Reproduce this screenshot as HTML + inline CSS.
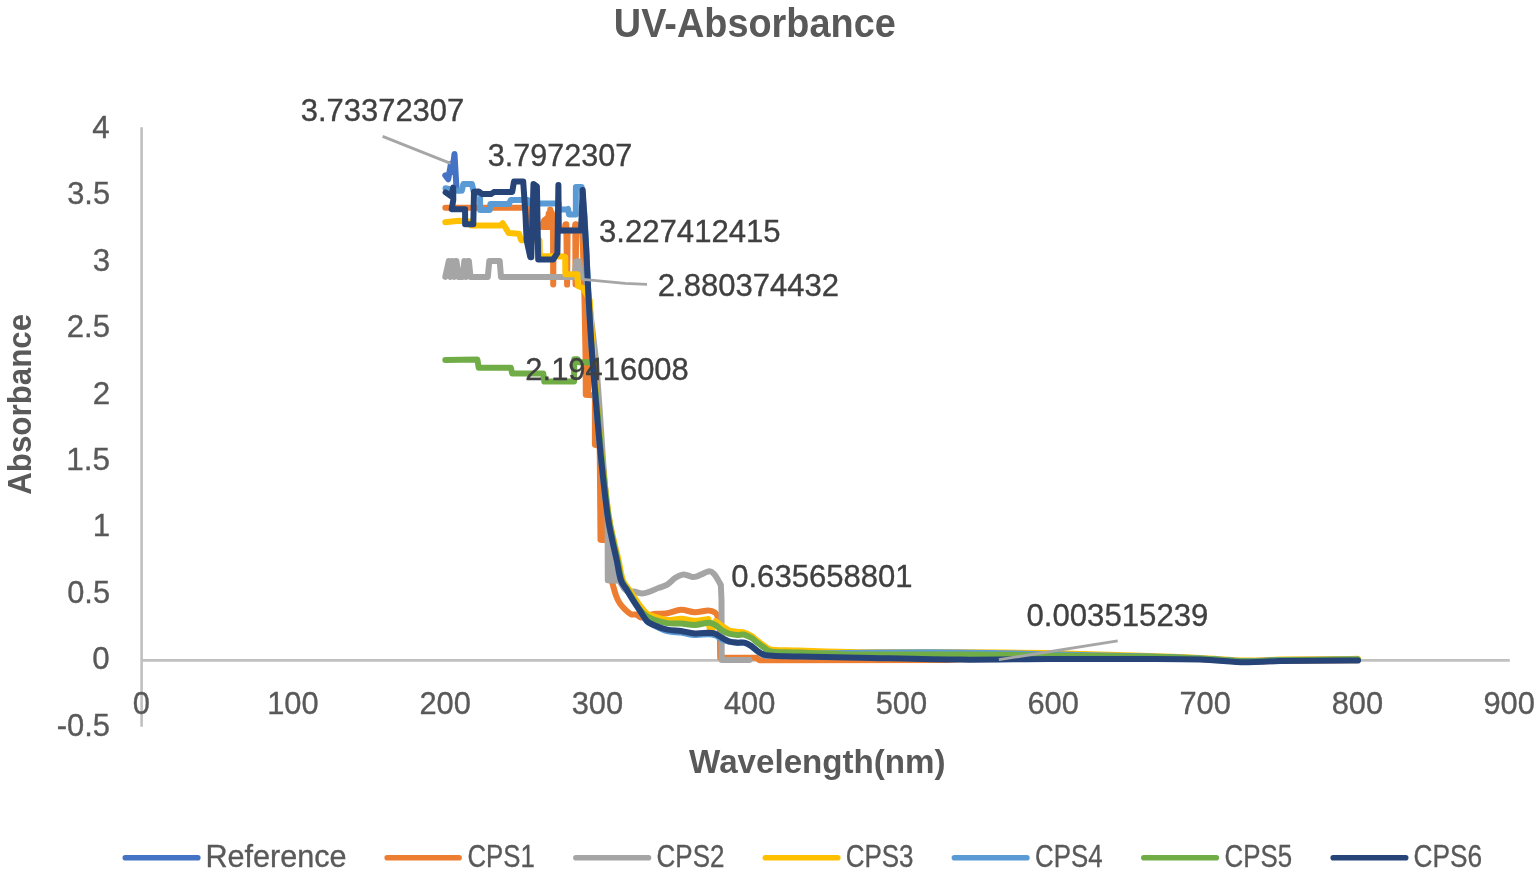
<!DOCTYPE html>
<html lang="en"><head><meta charset="utf-8"><title>UV-Absorbance</title>
<style>
html,body{margin:0;padding:0;background:#fff;}
body{width:1536px;height:878px;overflow:hidden;font-family:"Liberation Sans",Arial,sans-serif;}
svg{display:block;}
</style></head><body>
<svg width="1536" height="878" viewBox="0 0 1536 878" font-family="'Liberation Sans', Arial, sans-serif">
<rect width="1536" height="878" fill="#fff"/>
<g stroke="#c0c0c0" stroke-width="2.6" fill="none"><line x1="141.6" y1="127.3" x2="141.6" y2="726.8"/><line x1="141.6" y1="660.35" x2="1509.8" y2="660.35"/></g>
<g fill="none" stroke-width="6" stroke-linecap="round" stroke-linejoin="round">
<path stroke="#4472c4" d="M445.3,175.5 L448.2,179.3 L451.0,163.5 L452.3,172.0 L454.5,153.9 L456.3,185.0 L456.6,190.0"/>
<path stroke="#ed7d31" d="M445.3,207.7 L528.0,207.7 L529.5,227.0 L541.5,227.0 L544.0,220.5 L544.3,227.0 L545.5,219.3 L546.0,227.0 L547.0,218.0 L547.6,227.0 L548.7,213.5 L549.3,227.0 L550.2,209.6 L551.0,227.0 L551.7,212.5 L552.5,227.0 L553.0,215.0 L553.2,284.6 L553.6,230.4 L564.5,230.4 L565.4,224.2 L566.3,224.2 L567.1,284.6 L567.6,230.4 L574.5,230.4 L575.3,224.2 L575.5,284.6 L576.3,224.2 L577.0,230.4 L582.2,230.4 L583.0,250.0 L584.5,300.0 L585.6,360.0 L585.8,394.8 L594.9,395.5 L594.9,444.8 L599.7,446.0 L600.5,539.8 L610.0,540.5 L610.5,578.0 L612.6,584.0 C613.2,585.9 614.8,592.2 616.0,595.5 C617.2,598.8 618.4,601.3 620.0,603.7 C621.6,606.1 623.7,608.1 625.5,609.9 C627.3,611.7 629.2,613.5 631.0,614.3 C632.8,615.1 634.3,614.0 636.0,614.5 C637.7,615.0 639.3,617.2 641.0,617.5 C642.7,617.8 644.2,617.0 646.0,616.5 C647.8,616.0 650.2,615.1 651.5,614.7 C652.8,614.3 651.1,614.1 653.7,613.9 C656.3,613.6 662.8,613.9 667.3,613.2 C671.8,612.5 676.4,610.0 681.0,609.8 C685.6,609.6 690.1,612.1 694.7,612.2 C699.3,612.3 705.0,610.4 708.4,610.5 C711.8,610.6 713.6,611.5 715.2,612.6 C716.8,613.7 717.5,616.5 717.9,617.3 L719.8,625.0 L720.2,657.7 L756.7,657.7 L759.5,660.2 L946.0,659.9 L960.0,659.2 L1050.0,658.6 L1150.0,658.5 L1200.0,659.1 L1245.0,661.8 L1280.0,660.7 L1350.0,660.2 L1357.5,660.2"/>
<path stroke="#ed7d31" d="M588.2,335.0 L588.2,394.8"/>
<path stroke="#ed7d31" d="M602.3,492.0 L602.3,539.8"/>
<path stroke="#a5a5a5" d="M445.3,276.9 L448.8,261.0 L450.5,276.9 L452.2,261.0 L454.0,276.9 L455.5,261.0 L456.4,261.0 L458.5,276.9 L462.5,276.9 L464.3,261.0 L466.0,276.9 L467.5,261.0 L468.9,261.0 L470.5,276.9 L487.8,276.9 L489.3,261.0 L499.7,261.0 L501.0,276.9 L574.5,277.0 L576.3,261.2 L579.2,261.2 L580.5,277.0 L586.5,278.0 L588.9,300.0 L596.0,360.0 L599.7,410.0 L603.0,460.0 L607.3,515.0 L607.8,520.0 L609.5,580.3 L619.5,580.8 L624.0,588.5 C624.8,589.1 626.9,591.8 628.5,592.3 C630.1,592.8 631.5,591.2 633.7,591.4 C636.0,591.6 639.3,593.5 642.0,593.5 C644.7,593.5 647.3,592.4 650.0,591.5 C652.7,590.6 655.5,589.1 658.4,588.0 C661.3,586.9 664.4,586.3 667.2,584.6 C670.0,582.9 672.8,579.5 675.4,577.8 C678.0,576.1 680.5,575.0 682.6,574.6 C684.7,574.2 686.3,575.1 688.0,575.5 C689.7,575.9 691.3,576.9 692.8,577.0 C694.3,577.1 695.6,576.7 697.0,576.3 C698.4,575.9 699.0,575.5 701.0,574.6 C703.0,573.8 707.0,571.3 709.2,571.2 C711.4,571.1 712.5,572.4 714.0,573.9 C715.5,575.4 717.0,578.3 718.1,580.1 C719.2,581.9 720.3,584.1 720.8,584.9 L721.5,600.0 L721.7,660.0 L749.5,660.0"/>
<path stroke="#a5a5a5" d="M607.6,518.0 L607.8,580.3"/>
<path stroke="#a5a5a5" d="M610.3,533.0 L610.5,580.3"/>
<path stroke="#a5a5a5" d="M613.0,548.0 L613.0,580.3"/>
<path stroke="#a5a5a5" d="M615.5,562.0 L615.5,580.3"/>
<path stroke="#ffc000" d="M445.3,222.2 L458.9,220.8 L470.0,221.5 L471.0,225.6 L500.6,225.6 L502.7,223.2 L508.8,233.1 L519.0,233.8 L521.2,240.3 L539.5,240.3 L539.8,256.0 L562.8,256.5 L565.2,257.0 L565.4,274.3 L577.4,274.3 L578.0,286.0 L583.0,288.0 L589.7,300.0 L593.5,360.0 C594.1,367.5 595.8,388.3 597.2,405.0 C598.7,421.7 600.3,441.7 602.2,460.0 C604.1,478.3 606.8,501.7 608.7,515.0 C610.6,528.3 612.1,532.5 613.7,540.0 C615.3,547.5 617.0,553.3 618.5,560.0 C620.0,566.7 621.0,575.0 622.8,580.0 C624.6,585.0 627.4,586.9 629.4,590.0 C631.4,593.1 633.2,595.9 635.0,598.5 C636.8,601.1 638.0,603.2 640.0,605.7 C642.0,608.2 644.5,611.5 646.8,613.3 C649.1,615.1 650.3,615.3 653.7,616.4 C657.1,617.5 662.8,619.6 667.3,620.0 C671.8,620.4 676.4,618.6 681.0,618.7 C685.6,618.8 690.1,620.8 694.7,620.8 C699.3,620.8 706.1,619.3 708.4,619.0 L709.5,628.0 L713.0,628.0 L715.5,621.0 C716.6,621.8 719.8,624.5 722.0,626.0 C724.2,627.5 726.4,629.3 728.9,630.3 C731.4,631.2 734.4,631.3 737.0,631.7 C739.6,632.1 742.0,632.0 744.4,632.7 C746.8,633.4 749.0,634.4 751.3,635.8 C753.6,637.2 755.8,639.5 758.1,641.2 C760.4,643.0 763.2,645.1 764.9,646.3 C766.6,647.5 766.7,648.0 768.4,648.6 C770.1,649.2 769.9,649.6 775.2,649.9 C780.5,650.2 785.9,650.2 800.0,650.6 C814.1,651.0 833.3,651.9 860.0,652.2 C886.7,652.5 928.3,652.1 960.0,652.2 C991.7,652.4 1018.3,652.5 1050.0,653.1 C1081.7,653.8 1125.0,655.3 1150.0,656.1 C1175.0,656.9 1184.2,657.2 1200.0,657.9 C1215.8,658.6 1231.7,660.2 1245.0,660.5 C1258.3,660.8 1262.5,659.9 1280.0,659.6 C1297.5,659.3 1337.1,659.0 1350.0,658.9 C1362.9,658.8 1356.2,658.9 1357.5,658.9"/>
<path stroke="#5b9bd5" d="M445.5,188.3 L457.6,190.7 L461.8,190.7 L463.4,183.9 L471.9,183.9 L474.0,193.0 L480.1,194.0 L480.1,209.9 L489.7,209.9 L490.4,204.0 L508.8,204.0 L510.9,200.0 L528.0,200.0 L529.3,203.5 L558.6,203.5 L559.0,209.6 L567.0,209.6 L568.0,208.9 L569.0,214.4 L575.8,214.4 L575.9,187.0 L581.6,187.0 L583.0,200.0 L584.5,215.0 L586.3,250.3 C586.7,258.6 587.7,282.0 588.7,300.3 C589.7,318.6 591.2,342.8 592.5,360.3 C593.8,377.8 594.8,388.6 596.2,405.3 C597.7,422.0 599.3,442.0 601.2,460.3 C603.1,478.6 605.7,502.0 607.5,515.3 C609.3,528.6 610.7,532.8 612.2,540.3 C613.7,547.8 615.3,553.6 616.7,560.3 C618.1,567.0 619.1,575.3 620.8,580.3 C622.5,585.3 624.9,587.0 626.9,590.3 C628.9,593.6 630.9,597.0 633.0,600.3 C635.1,603.6 637.3,606.8 639.6,610.3 C641.9,613.8 644.4,618.6 646.8,621.1 C649.1,623.6 650.3,623.5 653.7,625.2 C657.1,626.9 662.8,630.0 667.3,631.2 C671.8,632.4 676.4,632.0 681.0,632.6 C685.6,633.2 690.1,634.7 694.7,635.0 C699.3,635.3 705.0,634.2 708.4,634.3 C711.8,634.4 712.9,634.5 715.2,635.3 C717.5,636.2 719.7,638.4 722.0,639.4 C724.3,640.4 726.4,641.0 728.9,641.6 C731.4,642.2 734.4,642.7 737.0,642.9 C739.6,643.1 742.0,642.3 744.4,642.9 C746.8,643.5 749.0,644.8 751.3,646.3 C753.6,647.8 755.8,650.2 758.1,651.7 C760.4,653.2 762.0,655.0 764.9,655.5 C767.8,656.0 769.4,655.2 775.2,655.0 C781.1,654.8 785.9,654.4 800.0,654.0 C814.1,653.6 833.3,653.0 860.0,652.8 C886.7,652.5 928.3,652.2 960.0,652.5 C991.7,652.8 1018.3,653.6 1050.0,654.3 C1081.7,655.0 1125.0,655.9 1150.0,656.6 C1175.0,657.3 1184.2,657.7 1200.0,658.4 C1215.8,659.1 1231.7,660.7 1245.0,661.0 C1258.3,661.3 1261.2,660.4 1280.0,660.1 C1298.8,659.9 1344.6,659.6 1357.5,659.5"/>
<path stroke="#70ad47" d="M445.3,360.0 L477.4,359.6 L478.7,367.8 L510.9,367.8 L512.2,373.6 L543.3,373.6 L544.3,381.5 L574.0,381.5 L574.3,359.3 L577.6,359.3 L578.6,362.3 L590.0,362.3 L592.8,362.5 L597.0,405.0 C597.8,414.2 600.1,441.7 602.0,460.0 C603.9,478.3 606.5,501.7 608.3,515.0 C610.1,528.3 611.5,532.5 613.0,540.0 C614.5,547.5 616.1,553.3 617.5,560.0 C618.9,566.7 619.9,575.0 621.6,580.0 C623.3,585.0 625.5,586.4 627.7,590.0 C629.8,593.6 632.5,598.2 634.5,601.5 C636.5,604.8 638.0,607.4 640.0,609.8 C642.0,612.2 644.5,614.5 646.8,616.1 C649.1,617.7 650.3,618.3 653.7,619.5 C657.1,620.7 662.8,622.4 667.3,623.1 C671.8,623.8 676.4,623.2 681.0,623.5 C685.6,623.8 690.1,625.0 694.7,624.9 C699.3,624.8 705.0,622.8 708.4,622.8 C711.8,622.8 712.9,623.6 715.2,624.9 C717.5,626.1 719.7,628.8 722.0,630.3 C724.3,631.8 726.4,632.9 728.9,633.7 C731.4,634.5 734.4,634.8 737.0,635.0 C739.6,635.2 742.0,634.2 744.4,634.7 C746.8,635.2 749.0,636.4 751.3,637.8 C753.6,639.2 755.8,641.5 758.1,643.2 C760.4,645.0 763.2,647.1 764.9,648.3 C766.6,649.5 766.7,650.0 768.4,650.6 C770.1,651.2 769.9,651.6 775.2,651.9 C780.5,652.2 785.9,652.2 800.0,652.6 C814.1,653.0 833.3,654.2 860.0,654.5 C886.7,654.8 928.3,654.4 960.0,654.5 C991.7,654.6 1018.3,655.0 1050.0,655.4 C1081.7,655.8 1125.0,656.3 1150.0,656.8 C1175.0,657.3 1184.2,657.9 1200.0,658.6 C1215.8,659.3 1231.7,660.9 1245.0,661.2 C1258.3,661.5 1262.5,660.6 1280.0,660.3 C1297.5,660.0 1337.1,659.7 1350.0,659.6 C1362.9,659.5 1356.2,659.6 1357.5,659.6"/>
<path stroke="#264478" d="M445.6,192.4 L451.3,196.4 L453.2,187.6 L453.3,200.0 L451.7,209.2 L465.1,209.2 L465.1,224.2 L473.3,224.2 L474.0,191.7 L478.7,191.5 L482.2,194.1 L491.0,194.1 L493.8,192.1 L512.2,192.1 L514.0,181.5 L523.2,181.5 L525.5,215.0 L526.6,240.0 L530.3,257.2 L531.3,257.2 L533.5,183.9 L536.9,186.4 L538.2,259.4 L553.3,259.4 L557.4,253.0 L558.4,185.0 L558.8,230.4 L581.0,230.4 L582.7,190.0 L586.3,250.0 C586.7,258.3 587.7,281.7 588.7,300.0 C589.7,318.3 591.2,342.5 592.5,360.0 C593.8,377.5 594.8,388.3 596.2,405.0 C597.7,421.7 599.3,441.7 601.2,460.0 C603.1,478.3 605.7,501.7 607.5,515.0 C609.3,528.3 610.7,532.5 612.2,540.0 C613.7,547.5 615.3,553.3 616.7,560.0 C618.1,566.7 619.1,575.0 620.8,580.0 C622.5,585.0 624.9,586.7 626.9,590.0 C628.9,593.3 630.9,596.7 633.0,600.0 C635.1,603.3 637.3,606.5 639.6,610.0 C641.9,613.5 644.4,618.3 646.8,620.8 C649.1,623.3 650.3,623.4 653.7,624.9 C657.1,626.4 662.8,628.6 667.3,629.6 C671.8,630.6 676.4,630.4 681.0,631.0 C685.6,631.6 690.1,633.1 694.7,633.4 C699.3,633.7 705.0,632.7 708.4,632.7 C711.8,632.8 712.9,632.9 715.2,633.7 C717.5,634.6 719.7,636.5 722.0,637.8 C724.3,639.1 726.4,640.5 728.9,641.3 C731.4,642.1 734.4,642.4 737.0,642.6 C739.6,642.8 742.0,642.0 744.4,642.6 C746.8,643.2 749.0,644.5 751.3,646.0 C753.6,647.5 755.8,649.9 758.1,651.4 C760.4,652.9 762.0,654.1 764.9,654.9 C767.8,655.6 769.4,655.6 775.2,655.9 C781.1,656.1 785.9,656.1 800.0,656.4 C814.1,656.7 833.3,657.2 860.0,657.7 C886.7,658.2 928.3,659.4 960.0,659.6 C991.7,659.8 1018.3,659.1 1050.0,659.0 C1081.7,658.9 1125.0,658.8 1150.0,658.9 C1175.0,659.0 1184.2,659.0 1200.0,659.5 C1215.8,660.0 1231.7,661.9 1245.0,662.2 C1258.3,662.5 1262.5,661.4 1280.0,661.1 C1297.5,660.8 1337.1,660.7 1350.0,660.6 C1362.9,660.5 1356.2,660.6 1357.5,660.6"/>
</g>
<g fill="none" stroke="#a6a6a6" stroke-width="2.8">
<path d="M382.6,136.4 L450.5,163.4"/>
<path d="M583,279.3 L625,283.3 L647,284.3"/>
<path d="M998.9,659.7 L1117.7,640.8"/>
</g>
<g fill="none" stroke-width="5.6" stroke-linecap="round">
<line x1="125.3" y1="857.8" x2="197.8" y2="857.8" stroke="#4472c4"/>
<line x1="387.2" y1="857.8" x2="459.1" y2="857.8" stroke="#ed7d31"/>
<line x1="575.9" y1="857.8" x2="648.5" y2="857.8" stroke="#a5a5a5"/>
<line x1="765.3" y1="857.8" x2="837.8" y2="857.8" stroke="#ffc000"/>
<line x1="954.4" y1="857.8" x2="1026.9" y2="857.8" stroke="#5b9bd5"/>
<line x1="1143.8" y1="857.8" x2="1216.3" y2="857.8" stroke="#70ad47"/>
<line x1="1333.2" y1="857.8" x2="1405.7" y2="857.8" stroke="#264478"/>
</g>
<g><text x="613.83" y="37.00" font-size="40.39" font-weight="bold" fill="#595959" textLength="281.92" lengthAdjust="spacingAndGlyphs">UV-Absorbance</text>
<text x="92.27" y="137.75" font-size="31.30" font-weight="normal" fill="#595959" stroke="#595959" stroke-width="0.35" textLength="17.41" lengthAdjust="spacingAndGlyphs">4</text>
<text x="67.24" y="204.20" font-size="31.30" font-weight="normal" fill="#595959" stroke="#595959" stroke-width="0.35" textLength="42.81" lengthAdjust="spacingAndGlyphs">3.5</text>
<text x="92.76" y="270.65" font-size="31.30" font-weight="normal" fill="#595959" stroke="#595959" stroke-width="0.35" textLength="17.41" lengthAdjust="spacingAndGlyphs">3</text>
<text x="66.74" y="337.10" font-size="31.30" font-weight="normal" fill="#595959" stroke="#595959" stroke-width="0.35" textLength="43.32" lengthAdjust="spacingAndGlyphs">2.5</text>
<text x="92.76" y="403.55" font-size="31.30" font-weight="normal" fill="#595959" stroke="#595959" stroke-width="0.35" textLength="17.41" lengthAdjust="spacingAndGlyphs">2</text>
<text x="66.23" y="470.00" font-size="31.30" font-weight="normal" fill="#595959" stroke="#595959" stroke-width="0.35" textLength="43.85" lengthAdjust="spacingAndGlyphs">1.5</text>
<text x="92.76" y="536.45" font-size="31.30" font-weight="normal" fill="#595959" stroke="#595959" stroke-width="0.35" textLength="17.41" lengthAdjust="spacingAndGlyphs">1</text>
<text x="67.24" y="602.90" font-size="31.30" font-weight="normal" fill="#595959" stroke="#595959" stroke-width="0.35" textLength="42.81" lengthAdjust="spacingAndGlyphs">0.5</text>
<text x="92.27" y="669.35" font-size="31.30" font-weight="normal" fill="#595959" stroke="#595959" stroke-width="0.35" textLength="17.41" lengthAdjust="spacingAndGlyphs">0</text>
<text x="56.73" y="735.80" font-size="31.30" font-weight="normal" fill="#595959" stroke="#595959" stroke-width="0.35" textLength="53.32" lengthAdjust="spacingAndGlyphs">-0.5</text>
<text x="132.83" y="714.45" font-size="31.30" font-weight="normal" fill="#595959" stroke="#595959" stroke-width="0.35" textLength="17.15" lengthAdjust="spacingAndGlyphs">0</text>
<text x="267.20" y="714.45" font-size="31.30" font-weight="normal" fill="#595959" stroke="#595959" stroke-width="0.35" textLength="51.44" lengthAdjust="spacingAndGlyphs">100</text>
<text x="419.44" y="714.45" font-size="31.30" font-weight="normal" fill="#595959" stroke="#595959" stroke-width="0.35" textLength="51.44" lengthAdjust="spacingAndGlyphs">200</text>
<text x="571.68" y="714.45" font-size="31.30" font-weight="normal" fill="#595959" stroke="#595959" stroke-width="0.35" textLength="51.44" lengthAdjust="spacingAndGlyphs">300</text>
<text x="723.92" y="714.45" font-size="31.30" font-weight="normal" fill="#595959" stroke="#595959" stroke-width="0.35" textLength="51.44" lengthAdjust="spacingAndGlyphs">400</text>
<text x="875.68" y="714.45" font-size="31.30" font-weight="normal" fill="#595959" stroke="#595959" stroke-width="0.35" textLength="51.44" lengthAdjust="spacingAndGlyphs">500</text>
<text x="1027.44" y="714.45" font-size="31.30" font-weight="normal" fill="#595959" stroke="#595959" stroke-width="0.35" textLength="51.44" lengthAdjust="spacingAndGlyphs">600</text>
<text x="1179.44" y="714.45" font-size="31.30" font-weight="normal" fill="#595959" stroke="#595959" stroke-width="0.35" textLength="51.44" lengthAdjust="spacingAndGlyphs">700</text>
<text x="1331.68" y="714.45" font-size="31.30" font-weight="normal" fill="#595959" stroke="#595959" stroke-width="0.35" textLength="51.44" lengthAdjust="spacingAndGlyphs">800</text>
<text x="1483.44" y="714.45" font-size="31.30" font-weight="normal" fill="#595959" stroke="#595959" stroke-width="0.35" textLength="51.44" lengthAdjust="spacingAndGlyphs">900</text>
<text x="689.10" y="773.40" font-size="33.14" font-weight="bold" fill="#595959" textLength="256.50" lengthAdjust="spacingAndGlyphs">Wavelength(nm)</text>
<text transform="translate(31.30,494.79) rotate(-90)" font-size="33.85" font-weight="bold" fill="#595959" textLength="180.97" lengthAdjust="spacingAndGlyphs">Absorbance</text>
<text x="300.73" y="121.35" font-size="31.30" font-weight="normal" fill="#404040" stroke="#404040" stroke-width="0.35" textLength="163.52" lengthAdjust="spacingAndGlyphs">3.73372307</text>
<text x="487.74" y="165.95" font-size="31.30" font-weight="normal" fill="#404040" stroke="#404040" stroke-width="0.35" textLength="144.49" lengthAdjust="spacingAndGlyphs">3.7972307</text>
<text x="599.03" y="242.05" font-size="31.30" font-weight="normal" fill="#404040" stroke="#404040" stroke-width="0.35" textLength="181.63" lengthAdjust="spacingAndGlyphs">3.227412415</text>
<text x="657.84" y="296.05" font-size="31.30" font-weight="normal" fill="#404040" stroke="#404040" stroke-width="0.35" textLength="181.31" lengthAdjust="spacingAndGlyphs">2.880374432</text>
<text x="525.35" y="379.65" font-size="31.30" font-weight="normal" fill="#404040" stroke="#404040" stroke-width="0.35" textLength="163.40" lengthAdjust="spacingAndGlyphs">2.19416008</text>
<text x="731.23" y="586.65" font-size="31.30" font-weight="normal" fill="#404040" stroke="#404040" stroke-width="0.35" textLength="181.33" lengthAdjust="spacingAndGlyphs">0.635658801</text>
<text x="1026.53" y="625.85" font-size="31.30" font-weight="normal" fill="#404040" stroke="#404040" stroke-width="0.35" textLength="181.84" lengthAdjust="spacingAndGlyphs">0.003515239</text>
<text x="205.41" y="867.20" font-size="31.15" font-weight="normal" fill="#595959" stroke="#595959" stroke-width="0.35" textLength="141.13" lengthAdjust="spacingAndGlyphs">Reference</text>
<text x="467.54" y="867.20" font-size="31.15" font-weight="normal" fill="#595959" stroke="#595959" stroke-width="0.35" textLength="67.25" lengthAdjust="spacingAndGlyphs">CPS1</text>
<text x="656.58" y="867.20" font-size="31.15" font-weight="normal" fill="#595959" stroke="#595959" stroke-width="0.35" textLength="67.87" lengthAdjust="spacingAndGlyphs">CPS2</text>
<text x="845.68" y="867.20" font-size="31.15" font-weight="normal" fill="#595959" stroke="#595959" stroke-width="0.35" textLength="67.87" lengthAdjust="spacingAndGlyphs">CPS3</text>
<text x="1035.09" y="867.20" font-size="31.15" font-weight="normal" fill="#595959" stroke="#595959" stroke-width="0.35" textLength="67.45" lengthAdjust="spacingAndGlyphs">CPS4</text>
<text x="1224.49" y="867.20" font-size="31.15" font-weight="normal" fill="#595959" stroke="#595959" stroke-width="0.35" textLength="67.56" lengthAdjust="spacingAndGlyphs">CPS5</text>
<text x="1413.52" y="867.20" font-size="31.15" font-weight="normal" fill="#595959" stroke="#595959" stroke-width="0.35" textLength="68.54" lengthAdjust="spacingAndGlyphs">CPS6</text></g>
</svg>
</body></html>
